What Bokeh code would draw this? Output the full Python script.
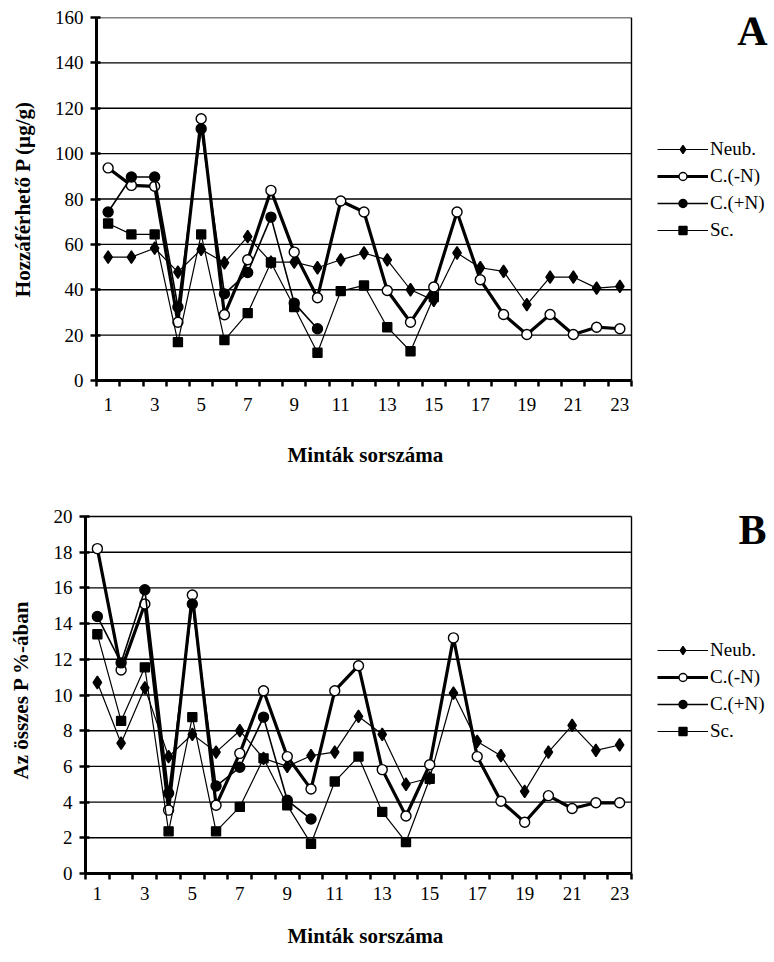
from bokeh.plotting import figure
from bokeh.models import Range1d, FixedTicker, Legend, LegendItem, Label, Title
from bokeh.embed import file_html
from bokeh.resources import INLINE

# ---------------- data ----------------
samples = list(range(1, 24))
x_label_ticks = list(range(1, 24, 2))
series_names = ["Neub.", "C.(-N)", "C.(+N)", "Sc."]
x_title = "Minták sorszáma"

# Panel A: Hozzáférhető P (µg/g)
a_neub = [54.4, 54.4, 58.3, 47.8, 57.8, 51.9, 63.4, 52.2, 52.2, 49.7, 53.2, 56.2,
          53.2, 40.0, 35.3, 56.2, 49.7, 48.1, 33.4, 45.6, 45.6, 40.7, 41.5]
a_cmn = [93.7, 86.0, 85.6, 25.7, 115.4, 29.0, 53.2, 83.8, 56.6, 36.5, 79.1, 74.3,
         39.7, 25.7, 41.2, 74.3, 44.4, 29.1, 20.3, 29.1, 20.3, 23.5, 22.8]
a_cpn = [74.3, 89.7, 89.7, 32.4, 111.0, 38.2, 47.6, 72.0, 34.1, 22.8]
a_sc = [69.2, 64.4, 64.4, 16.9, 64.4, 17.8, 29.7, 52.0, 32.4, 12.2, 39.4, 41.9,
        23.5, 12.9, 36.8]
a_yticks = list(range(0, 161, 20))

# Panel B: Az összes P %-ában
b_neub = [10.7, 7.3, 10.4, 6.55, 7.8, 6.8, 8.0, 6.45, 6.0, 6.6, 6.8, 8.8,
          7.8, 5.0, 5.35, 10.1, 7.4, 6.6, 4.6, 6.8, 8.3, 6.9, 7.2]
b_cmn = [18.2, 11.4, 15.1, 3.55, 15.6, 3.82, 6.73, 10.24, 6.55, 4.73, 10.24, 11.64,
         5.82, 3.22, 6.09, 13.2, 6.55, 4.05, 2.87, 4.36, 3.64, 3.96, 3.96]
b_cpn = [14.4, 11.8, 15.9, 4.5, 15.1, 4.9, 5.95, 8.76, 4.1, 3.05]
b_sc = [13.4, 8.55, 11.55, 2.36, 8.76, 2.36, 3.73, 6.45, 3.82, 1.67, 5.15, 6.55,
        3.45, 1.76, 5.31]
b_yticks = list(range(0, 21, 2))

FONT = "Liberation Serif, DejaVu Serif, serif"
N_CAT = len(samples)


def make_panel(series, yticks, ymax, ytitle, letter, width, height,
               bl, bt, data_fw, data_fh, top_pad, xlab_standoff, xtitle_offset,
               xtitle_standoff, ytitle_standoff, legend_loc, letter_pos):
    fw = width - bl
    fh = data_fh + top_pad
    px_per = data_fw / N_CAT
    x_end = 0.5 + fw / px_per
    y_end = ymax + top_pad * ymax / data_fh
    p = figure(width=width, height=height, output_backend="svg", toolbar_location=None,
               x_range=Range1d(0.5, x_end), y_range=Range1d(0, y_end),
               min_border_left=bl, min_border_top=bt,
               min_border_right=0, min_border_bottom=height - bt - fh)
    p.frame_width = fw
    p.frame_height = fh
    p.background_fill_color = "white"
    p.border_fill_color = "white"
    p.outline_line_color = None

    # horizontal gridlines and right border, only over the category area
    p.xgrid.visible = False
    p.ygrid.visible = False
    xmax = N_CAT + 0.5
    p.segment(x0=[0.5] * len(yticks), x1=[xmax] * len(yticks), y0=yticks, y1=yticks,
              line_color="black", line_width=1.4)
    p.segment(x0=[xmax], x1=[xmax], y0=[0], y1=[ymax], line_color="black", line_width=1.4)

    xa = p.xaxis[0]
    xa.bounds = (0.5, xmax)
    xa.ticker = FixedTicker(ticks=x_label_ticks,
                            minor_ticks=[i + 0.5 for i in range(0, N_CAT + 1)])
    xa.major_tick_out = 0
    xa.major_tick_in = 0
    xa.minor_tick_out = 6
    xa.minor_tick_in = 0
    xa.minor_tick_line_color = "black"
    xa.minor_tick_line_width = 2.5
    xa.axis_line_width = 3
    xa.axis_line_color = "black"
    xa.major_label_text_font = FONT
    xa.major_label_text_font_size = "19px"
    xa.major_label_text_color = "black"
    xa.major_label_standoff = xlab_standoff

    p.add_layout(Title(text=x_title, align="left", offset=xtitle_offset,
                       standoff=xtitle_standoff, text_font=FONT,
                       text_font_style="bold", text_font_size="21px",
                       text_color="black"), "below")

    ya = p.yaxis[0]
    ya.bounds = (0, ymax)
    ya.ticker = FixedTicker(ticks=yticks, minor_ticks=[])
    ya.major_tick_out = 6
    ya.major_tick_in = 4
    ya.major_tick_line_width = 2.5
    ya.major_tick_line_color = "black"
    ya.axis_line_width = 3
    ya.axis_line_color = "black"
    ya.major_label_text_font = FONT
    ya.major_label_text_font_size = "19px"
    ya.major_label_text_color = "black"
    ya.major_label_standoff = 7
    ya.axis_label = ytitle
    ya.axis_label_text_font = FONT
    ya.axis_label_text_font_style = "bold"
    ya.axis_label_text_font_size = "21px"
    ya.axis_label_text_color = "black"
    ya.axis_label_standoff = ytitle_standoff

    styles = [
        dict(marker="diamond", size=12.5, fill="black", lw=1.2),
        dict(marker="circle", size=10, fill="white", lw=3.2),
        dict(marker="circle", size=10, fill="black", lw=1.6),
        dict(marker="square", size=9, fill="black", lw=1.2),
    ]
    items = []
    for name, vals, st in zip(series_names, series, styles):
        xs = samples[:len(vals)]
        lr = p.line(xs, vals, line_color="black", line_width=st["lw"])
        sr = p.scatter(xs, vals, marker=st["marker"], size=st["size"],
                       fill_color=st["fill"], line_color="black", line_width=1.4)
        items.append(LegendItem(label=name, renderers=[lr, sr]))

    leg = Legend(items=items, location=legend_loc)
    leg.border_line_color = None
    leg.background_fill_alpha = 0
    leg.label_text_font = FONT
    leg.label_text_font_size = "19px"
    leg.label_text_color = "black"
    leg.glyph_width = 51
    leg.glyph_height = 20
    leg.label_height = 20
    leg.spacing = 5
    leg.padding = 0
    leg.margin = 0
    leg.label_standoff = 2
    p.add_layout(leg)

    p.add_layout(Label(x=letter_pos[0], y=letter_pos[1], x_units="screen", y_units="screen",
                       text=letter, text_font=FONT, text_font_style="bold",
                       text_font_size="42px", text_color="black",
                       text_align="center", text_baseline="middle"))
    return p


pa = make_panel([a_neub, a_cmn, a_cpn, a_sc], a_yticks, 160,
                "Hozzáférhető P (µg/g)", "A",
                width=774, height=489, bl=96, bt=17, data_fw=535, data_fh=363, top_pad=0,
                xlab_standoff=11, xtitle_offset=191, xtitle_standoff=54,
                ytitle_standoff=17, legend_loc=(561, 139), letter_pos=(656, 350))

pb = make_panel([b_neub, b_cmn, b_cpn, b_sc], b_yticks, 20,
                "Az összes P %-ában", "B",
                width=774, height=469, bl=85, bt=13, data_fw=546, data_fh=357, top_pad=10,
                xlab_standoff=7, xtitle_offset=202, xtitle_standoff=39,
                ytitle_standoff=18, legend_loc=(572, 131), letter_pos=(667, 344))

open("out.html", "w").write(file_html([pa, pb], INLINE))
